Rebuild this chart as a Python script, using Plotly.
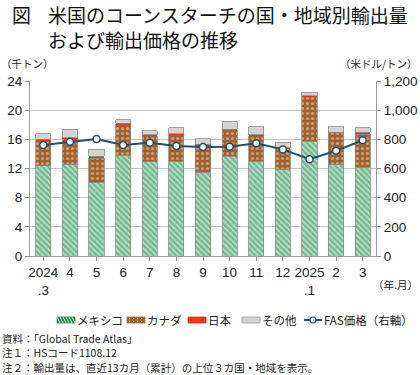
import plotly.graph_objects as go

months = ["2024<br>.3", "4", "5", "6", "7", "8", "9", "10", "11", "12", "2025<br>.1", "2", "3"]
mexico = [12.4, 12.6, 10.1, 13.8, 12.9, 13.0, 11.5, 13.7, 13.0, 11.9, 15.75, 12.6, 12.1]
canada = [3.5, 3.5, 3.3, 4.3, 3.6, 3.7, 3.7, 3.6, 3.5, 2.8, 6.15, 4.3, 4.6]
japan = [0.1, 0.1, 0.3, 0.1, 0.1, 0.1, 0.1, 0.1, 0.1, 0.15, 0.1, 0.1, 0.3]
other = [0.8, 1.15, 0.96, 0.5, 0.55, 0.8, 0.8, 1.1, 1.1, 0.75, 0.45, 0.7, 0.6]
fas_price = [761, 784, 802, 761, 777, 754, 747, 750, 773, 731, 663, 722, 793]
series_names = ["メキシコ", "カナダ", "日本", "その他", "FAS価格（右軸）"]

FONT = "Noto Sans CJK JP"
NUMFONT = "Liberation Sans, Arial, sans-serif"
W, H = 420, 375
L, R, T, B = 30, 44, 81, 119
PW, PH = W - L - R, H - T - B


def px(xp):
    return (xp - L) / PW


def py(yp):
    return (H - B - yp) / PH


x = list(range(len(months)))
edge = dict(color="#8c8c8c", width=0.8)
GREEN_FG, GREEN_BG = "#238a4e", "#c4e8d2"
BROWN_FG, BROWN_BG = "#f2dcc0", "#a3622c"
RED = "#e8361c"
GRAY = "#d4d4d4"
LINE = "#1e5170"

fig = go.Figure()
fig.add_trace(go.Bar(
    x=x, y=mexico, name=series_names[0],
    marker=dict(color=GREEN_FG, line=edge,
                pattern=dict(shape="\\", fgcolor=GREEN_FG, bgcolor=GREEN_BG, size=4, solidity=0.65)),
))
fig.add_trace(go.Bar(
    x=x, y=canada, name=series_names[1],
    marker=dict(color=BROWN_BG, line=edge,
                pattern=dict(shape=".", fgcolor=BROWN_FG, bgcolor=BROWN_BG, size=5, solidity=0.3)),
))
fig.add_trace(go.Bar(
    x=x, y=japan, name=series_names[2],
    marker=dict(color=RED, line=dict(width=0)),
))
fig.add_trace(go.Bar(
    x=x, y=other, name=series_names[3],
    marker=dict(color=GRAY, line=edge),
))
fig.add_trace(go.Scatter(
    x=x, y=fas_price, name=series_names[4], yaxis="y2", mode="lines+markers",
    line=dict(color=LINE, width=2),
    marker=dict(symbol="circle", size=7, color="white", line=dict(color=LINE, width=1.5)),
))

TICKFONT = dict(size=13.5, family=NUMFONT, color="#222")
fig.update_layout(
    width=W, height=H,
    margin=dict(l=L, r=R, t=T, b=B, autoexpand=False),
    paper_bgcolor="white", plot_bgcolor="white",
    barmode="stack", bargap=0.43,
    font=dict(family=FONT, size=12, color="#222"),
    showlegend=False,
    xaxis=dict(
        tickmode="array", tickvals=x, ticktext=months, range=[-0.5, len(months) - 0.5],
        showline=True, linecolor="#9a9a9a", linewidth=1,
        ticks="outside", tickson="boundaries", ticklen=4, tickcolor="#9a9a9a",
        showgrid=False, tickfont=TICKFONT, automargin=False,
    ),
    yaxis=dict(
        range=[0, 24], tickvals=[0, 4, 8, 12, 16, 20, 24],
        showgrid=True, gridcolor="#c4c4c4", gridwidth=1,
        showline=True, linecolor="#9a9a9a", ticks="outside", ticklen=4, tickcolor="#9a9a9a",
        tickfont=TICKFONT, zeroline=False, automargin=False,
    ),
    yaxis2=dict(
        range=[0, 1200], tickvals=[0, 200, 400, 600, 800, 1000, 1200],
        tickformat=",d", overlaying="y", side="right", showgrid=False,
        showline=True, linecolor="#9a9a9a", ticks="outside", ticklen=4, tickcolor="#9a9a9a",
        tickfont=TICKFONT, zeroline=False, automargin=False,
    ),
)

# Title
fig.add_annotation(text="図", xref="paper", yref="paper", x=px(10), y=py(15),
                   xanchor="left", yanchor="middle", showarrow=False,
                   font=dict(size=19, family=FONT, color="#111"))
fig.add_annotation(text="米国のコーンスターチの国・地域別輸出量", xref="paper", yref="paper",
                   x=px(46), y=py(15), xanchor="left", yanchor="middle", showarrow=False,
                   font=dict(size=19, family=FONT, color="#111"))
fig.add_annotation(text="および輸出価格の推移", xref="paper", yref="paper",
                   x=px(46), y=py(39), xanchor="left", yanchor="middle", showarrow=False,
                   font=dict(size=19, family=FONT, color="#111"))

# Axis unit labels
for t, xp, yp, anc in [("（千トン）", 0, 63, "left"),
                       ("（米ドル/トン）", 419, 63, "right"),
                       ("（年.月）", 419, 284, "right")]:
    fig.add_annotation(text=t, xref="paper", yref="paper", x=px(xp), y=py(yp),
                       xanchor=anc, yanchor="middle", showarrow=False, borderpad=0,
                       font=dict(size=10.5, family=FONT, color="#222"))

# Custom legend
LY = 320
swatches = [
    (57, 76, GREEN_FG, series_names[0]),
    (127, 146, BROWN_BG, series_names[1]),
    (188, 207, RED, series_names[2]),
    (242, 261, GRAY, series_names[3]),
]
for x0, tx, fill, name in swatches:
    fig.add_shape(type="rect", xref="paper", yref="paper",
                  x0=px(x0), x1=px(x0 + 18), y0=py(LY + 3), y1=py(LY - 3),
                  fillcolor=fill, line=dict(color="#9a9a9a" if name == series_names[3] else fill, width=0.8))
    if name == series_names[0]:
        for k in range(0, 18, 3):
            fig.add_shape(type="line", xref="paper", yref="paper",
                          x0=px(x0 + k), x1=px(x0 + k + 3), y0=py(LY - 3), y1=py(LY + 3),
                          line=dict(color=GREEN_BG, width=1))
    if name == series_names[1]:
        for k in range(2, 18, 4):
            for d in (-1.5, 1.5):
                fig.add_shape(type="rect", xref="paper", yref="paper",
                              x0=px(x0 + k), x1=px(x0 + k + 1.2), y0=py(LY + d + 0.6), y1=py(LY + d - 0.6),
                              fillcolor=BROWN_FG, line=dict(width=0))
    fig.add_annotation(text=name, xref="paper", yref="paper", x=px(tx), y=py(LY),
                       xanchor="left", yanchor="middle", showarrow=False, borderpad=0,
                       font=dict(size=11.5, family=FONT, color="#222"))
fig.add_shape(type="line", xref="paper", yref="paper", x0=px(304), x1=px(322), y0=py(LY), y1=py(LY),
              line=dict(color=LINE, width=2))
fig.add_shape(type="circle", xref="paper", yref="paper", x0=px(310), x1=px(316), y0=py(LY + 3), y1=py(LY - 3),
              fillcolor="white", line=dict(color=LINE, width=1.2))
fig.add_annotation(text=series_names[4], xref="paper", yref="paper", x=px(323), y=py(LY),
                   xanchor="left", yanchor="middle", showarrow=False, borderpad=0,
                   font=dict(size=11.5, family=FONT, color="#222"))

# Notes
notes = ["資料：「Global Trade Atlas」",
         "注１：HSコード1108.12",
         "注２：輸出量は、直近13カ月（累計）の上位３カ国・地域を表示。"]
for i, n in enumerate(notes):
    fig.add_annotation(text=n, xref="paper", yref="paper", x=px(1), y=py(338 + 14.5 * i),
                       xanchor="left", yanchor="middle", align="left", showarrow=False, borderpad=0,
                       font=dict(size=10.5, family=FONT, color="#222"))

fig.write_html("out.html", config={"displayModeBar": False},
               post_script="document.body.style.margin='0';document.body.style.overflow='hidden';")
